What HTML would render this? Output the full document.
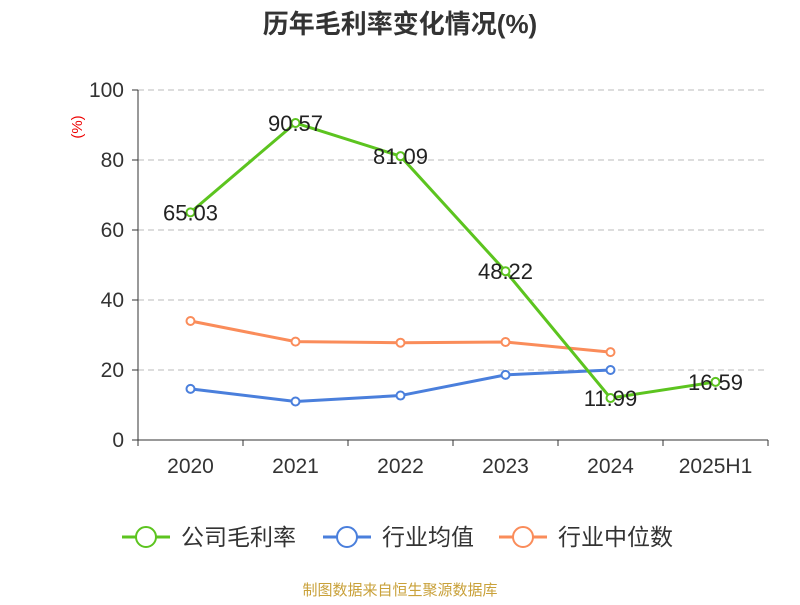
<!DOCTYPE html>
<html><head><meta charset="utf-8"><style>
body{margin:0;background:#fff;}
svg text{font-family:"Liberation Sans","Noto Sans CJK SC",sans-serif;}
</style></head><body>
<svg id="chart" width="800" height="600">
<text x="400" y="33" text-anchor="middle" font-size="26" font-weight="bold" fill="#333">历年毛利率变化情况(%)</text>
<text x="82" y="127" text-anchor="middle" font-size="15" fill="#e00" transform="rotate(-90 82 127)">(%)</text>
<g id="grid"></g><g id="axes"></g><g id="series"></g><g id="labels"></g>
<g id="legend"></g>
<text x="400" y="595" text-anchor="middle" font-size="15" fill="#c9a13a">制图数据来自恒生聚源数据库</text>
</svg>
<script>
const categories=["2020","2021","2022","2023","2024","2025H1"];
const companyMargin=[65.03,90.57,81.09,48.22,11.99,16.59];
const industryAvg=[14.6,11.0,12.7,18.6,20.0];
const industryMedian=[34.0,28.1,27.8,28.0,25.1];
const yTicks=[0,20,40,60,80,100];
const NS="http://www.w3.org/2000/svg";
const x0=138,x1=768,y0=440,y1=90;
const band=(x1-x0)/categories.length;
const xs=i=>x0+band*(i+0.5);
const ys=v=>y0-(v/100)*(y0-y1);
function mk(tag,attrs,parent){const e=document.createElementNS(NS,tag);for(const k in attrs)e.setAttribute(k,attrs[k]);document.getElementById(parent).appendChild(e);return e;}
yTicks.forEach(t=>{
 if(t>0){const l=mk('line',{x1:x0,x2:x1,y1:ys(t),y2:ys(t),stroke:'#bbb','stroke-dasharray':'6,4'},'grid');
 }
 const tk=mk('line',{x1:x0-6,x2:x0,y1:ys(t),y2:ys(t),stroke:'#333'},'axes');
 
 const tx=mk('text',{x:x0-14,y:ys(t)+7,'text-anchor':'end','font-size':21,fill:'#333'},'axes');
 tx.textContent=t;
});
let ya=mk('line',{x1:x0,x2:x0,y1:y1,y2:y0,stroke:'#333'},'axes');

let xa=mk('line',{x1:x0,x2:x1,y1:y0,y2:y0,stroke:'#333'},'axes');

for(let i=0;i<=categories.length;i++){const t=mk('line',{x1:x0+band*i,x2:x0+band*i,y1:y0,y2:y0+6,stroke:'#333'},'axes');
 }
categories.forEach((c,i)=>{const t=mk('text',{x:xs(i),y:y0+33,'text-anchor':'middle','font-size':21,fill:'#333'},'axes');
 t.textContent=c;});
function series(vals,color,name){
 const pts=vals.map((v,i)=>xs(i)+','+ys(v)).join(' ');
 const p=mk('polyline',{points:pts,fill:'none',stroke:color,'stroke-width':3},'series');
 
 vals.forEach((v,i)=>{const c=mk('circle',{cx:xs(i),cy:ys(v),r:4,fill:'#fff',stroke:color,'stroke-width':2},'series');
 });
}
series(industryMedian,'#fa8c5a','industry-median');
series(industryAvg,'#4a7fdc','industry-average');
series(companyMargin,'#5cc41f','company-margin');
companyMargin.forEach((v,i)=>{const t=mk('text',{x:xs(i),y:ys(v)+8,'text-anchor':'middle','font-size':22,fill:'#222'},'labels');
 t.textContent=v.toFixed(2);});
const legendItems=[["公司毛利率",'#5cc41f',122],["行业均值",'#4a7fdc',323],["行业中位数",'#fa8c5a',499]];
legendItems.forEach(([n,c,x])=>{
 const l=mk('line',{x1:x,x2:x+48,y1:537,y2:537,stroke:c,'stroke-width':3},'legend');
 
 const ci=mk('circle',{cx:x+24,cy:537,r:10,fill:'#fff',stroke:c,'stroke-width':2},'legend');
 
 const t=mk('text',{x:x+59,y:545,'font-size':23,fill:'#333'},'legend');
 t.textContent=n;
});
</script>
</body></html>
